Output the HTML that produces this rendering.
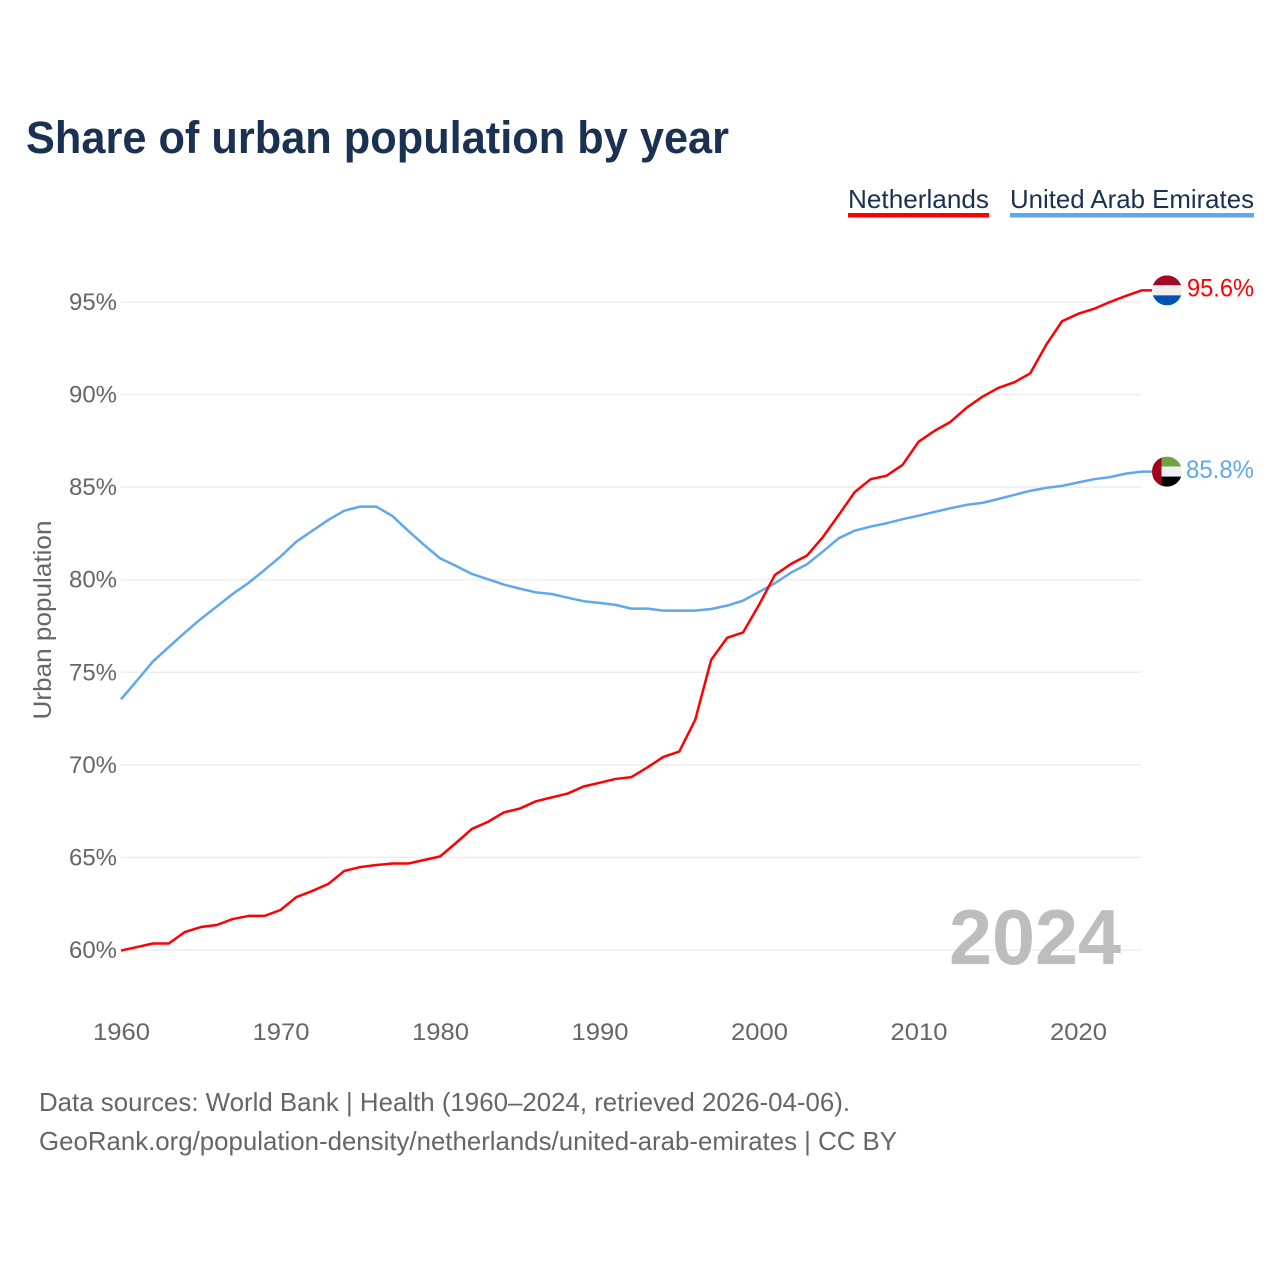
<!DOCTYPE html>
<html lang="en">
<head>
<meta charset="utf-8">
<title>Share of urban population by year</title>
<style>
  html, body { margin: 0; padding: 0; background: #fff; }
  svg { display: block; font-family: "Liberation Sans", sans-serif; }
</style>
</head>
<body>
<svg id="chart" xmlns="http://www.w3.org/2000/svg" width="1280" height="1280" viewBox="0 0 1280 1280">
  <defs>
    <clipPath id="clip-nl"><circle id="clip-nl-circle" cx="1167" cy="290" r="15"></circle></clipPath>
    <clipPath id="clip-ae"><circle id="clip-ae-circle" cx="1167" cy="472" r="15"></circle></clipPath>
  </defs>
  <rect width="1280" height="1280" fill="#ffffff"></rect>
  <text x="26" y="153" font-size="45" font-weight="700" fill="#1a3152" textLength="703" lengthAdjust="spacingAndGlyphs">Share of urban population by year</text>

  <g>
    <text x="848" y="208" font-size="26" fill="#1a3152" textLength="141" lengthAdjust="spacingAndGlyphs">Netherlands</text>
    <rect x="848" y="213" width="141" height="4.5" fill="#ff0000"></rect>
  </g>
  <g>
    <text x="1010" y="208" font-size="26" fill="#1a3152" textLength="244" lengthAdjust="spacingAndGlyphs">United Arab Emirates</text>
    <rect x="1010" y="213" width="244" height="4.5" fill="#5fa8ee"></rect>
  </g>

  <g id="grid"></g>
  <g id="y-ticks"></g>
  <g id="x-ticks"></g>
  <text transform="translate(51 620) rotate(-90)" text-anchor="middle" font-size="25" fill="#666666" textLength="199" lengthAdjust="spacingAndGlyphs">Urban population</text>

  <text x="949" y="964" font-size="78" font-weight="700" fill="#bdbdbd" textLength="172" lengthAdjust="spacingAndGlyphs">2024</text>

  <g id="series"></g>

  <g id="flag-nl" clip-path="url(#clip-nl)">
    <rect id="nl-red" x="1152" width="30" height="10" fill="#a00a26"></rect>
    <rect id="nl-white" x="1152" width="30" height="10" fill="#f0f0f0"></rect>
    <rect id="nl-blue" x="1152" width="30" height="10" fill="#0052b4"></rect>
  </g>
  <g id="flag-ae" clip-path="url(#clip-ae)">
    <rect id="ae-green" x="1152" width="30" height="10" fill="#6da544"></rect>
    <rect id="ae-white" x="1152" width="30" height="10" fill="#f0f0f0"></rect>
    <rect id="ae-black" x="1152" width="30" height="10" fill="#000000"></rect>
    <rect id="ae-red" x="1152" width="9.5" height="30" fill="#a2001d"></rect>
  </g>
  <text id="value-nl" x="1187" font-size="25" fill="#ff0000" textLength="67" lengthAdjust="spacingAndGlyphs"></text>
  <text id="value-ae" x="1186" font-size="25" fill="#5fa8ee" textLength="68" lengthAdjust="spacingAndGlyphs"></text>

  <text x="39" y="1111" font-size="26" fill="#666666" textLength="811" lengthAdjust="spacingAndGlyphs">Data sources: World Bank | Health (1960–2024, retrieved 2026-04-06).</text>
  <text x="39" y="1150" font-size="26" fill="#666666" textLength="858" lengthAdjust="spacingAndGlyphs">GeoRank.org/population-density/netherlands/united-arab-emirates | CC BY</text>
</svg>
<script>
const startYear = 1960;
const netherlandsValues = [
  59.97, 60.16, 60.35, 60.35, 60.97, 61.24, 61.35, 61.67, 61.84, 61.84,
  62.16, 62.86, 63.19, 63.57, 64.27, 64.48, 64.59, 64.67, 64.67, 64.86,
  65.05, 65.78, 66.54, 66.92, 67.43, 67.64, 68.03, 68.24, 68.45, 68.83,
  69.03, 69.24, 69.34, 69.86, 70.43, 70.72, 72.43, 75.67, 76.86, 77.15,
  78.64, 80.26, 80.85, 81.30, 82.30, 83.50, 84.73, 85.43, 85.62, 86.20,
  87.45, 88.04, 88.52, 89.28, 89.88, 90.36, 90.66, 91.14, 92.68, 93.96,
  94.36, 94.63, 95.00, 95.33, 95.63
];
const uaeValues = [
  73.54, 74.55, 75.58, 76.37, 77.14, 77.88, 78.55, 79.23, 79.83, 80.53,
  81.25, 82.06, 82.65, 83.23, 83.73, 83.95, 83.95, 83.45, 82.65, 81.88,
  81.16, 80.75, 80.31, 80.03, 79.74, 79.52, 79.32, 79.23, 79.03, 78.84,
  78.75, 78.64, 78.44, 78.44, 78.33, 78.33, 78.33, 78.42, 78.60, 78.87,
  79.34, 79.81, 80.38, 80.83, 81.52, 82.24, 82.65, 82.87, 83.05, 83.27,
  83.46, 83.66, 83.86, 84.04, 84.15, 84.36, 84.58, 84.80, 84.96, 85.07,
  85.25, 85.43, 85.54, 85.73, 85.84
];
const yTickValues = [60, 65, 70, 75, 80, 85, 90, 95];
const xTickValues = [1960, 1970, 1980, 1990, 2000, 2010, 2020];

const SVG_NS = 'http://www.w3.org/2000/svg';
function xScale(year) { return 121 + (year - 1960) * 15.95; }
function yScale(value) { return 950 - (value - 60) * 18.514; }
function byId(id) { return document.getElementById(id); }

yTickValues.forEach(function (tick) {
  const y = yScale(tick);
  const line = document.createElementNS(SVG_NS, 'line');
  
  
  line.setAttribute('x1', xScale(1960));
  line.setAttribute('x2', xScale(2024));
  line.setAttribute('y1', y);
  line.setAttribute('y2', y);
  line.setAttribute('stroke', '#eeeeee');
  line.setAttribute('stroke-width', '1.5');
  byId('grid').appendChild(line);

  const label = document.createElementNS(SVG_NS, 'text');
  
  
  label.setAttribute('x', 69);
  label.setAttribute('y', y + 8);
  label.setAttribute('font-size', '24.5');
  label.setAttribute('fill', '#666666');
  label.setAttribute('textLength', '48');
  label.setAttribute('lengthAdjust', 'spacingAndGlyphs');
  label.textContent = tick + '%';
  byId('y-ticks').appendChild(label);
});

xTickValues.forEach(function (tick) {
  const label = document.createElementNS(SVG_NS, 'text');
  
  
  label.setAttribute('x', xScale(tick) - 28);
  label.setAttribute('y', 1040);
  label.setAttribute('font-size', '24.5');
  label.setAttribute('fill', '#666666');
  label.setAttribute('textLength', '57');
  label.setAttribute('lengthAdjust', 'spacingAndGlyphs');
  label.textContent = String(tick);
  byId('x-ticks').appendChild(label);
});

function linePath(values) {
  const parts = values.map(function (value, i) {
    return (i ? 'L' : 'M') + xScale(startYear + i).toFixed(2) + ' ' + yScale(value).toFixed(2);
  });
  parts.push('L1152 ' + yScale(values[values.length - 1]).toFixed(2));
  return parts.join(' ');
}

const uaeLine = document.createElementNS(SVG_NS, 'path');


uaeLine.setAttribute('d', linePath(uaeValues));
uaeLine.setAttribute('fill', 'none');
uaeLine.setAttribute('stroke', '#5fa8ee');
uaeLine.setAttribute('stroke-width', '2.5');
uaeLine.setAttribute('stroke-linejoin', 'round');
byId('series').appendChild(uaeLine);

const netherlandsLine = document.createElementNS(SVG_NS, 'path');


netherlandsLine.setAttribute('d', linePath(netherlandsValues));
netherlandsLine.setAttribute('fill', 'none');
netherlandsLine.setAttribute('stroke', '#ff0000');
netherlandsLine.setAttribute('stroke-width', '2.5');
netherlandsLine.setAttribute('stroke-linejoin', 'round');
byId('series').appendChild(netherlandsLine);

function placeBands(cy, ids) {
  ids.forEach(function (id, i) {
    byId(id).setAttribute('y', cy - 15 + i * 10);
  });
}

const nlLast = netherlandsValues[netherlandsValues.length - 1];
const aeLast = uaeValues[uaeValues.length - 1];
const nlY = yScale(nlLast);
const aeY = yScale(aeLast);

byId('clip-nl-circle').setAttribute('cy', nlY);
byId('clip-ae-circle').setAttribute('cy', aeY);
placeBands(nlY, ['nl-red', 'nl-white', 'nl-blue']);
placeBands(aeY, ['ae-green', 'ae-white', 'ae-black']);
byId('ae-red').setAttribute('y', aeY - 15);

byId('value-nl').setAttribute('y', nlY + 6);
byId('value-nl').textContent = nlLast.toFixed(1) + '%';
byId('value-ae').setAttribute('y', aeY + 6.5);
byId('value-ae').textContent = aeLast.toFixed(1) + '%';
</script>
</body>
</html>
